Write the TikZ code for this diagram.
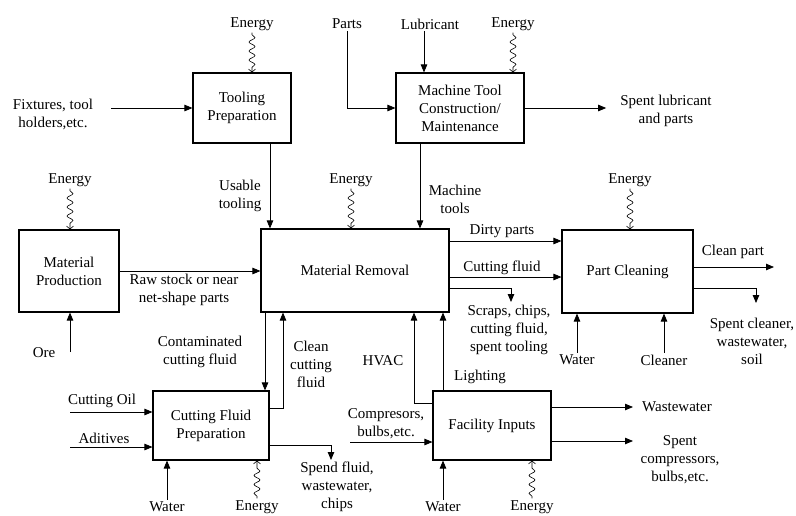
\documentclass[tikz,border=0pt]{standalone}
\usepackage{fontspec}
\setmainfont{Liberation Serif}
\usetikzlibrary{arrows.meta,decorations.pathmorphing}

\tikzset{
  block/.style={draw, line width=1.1pt, align=center, inner sep=2pt},
  lbl/.style={align=center, inner sep=0pt},
  flow/.style={line width=0.8pt, -{Triangle[length=8pt,width=6.5pt]}},
  energy/.style={line width=0.6pt, -{Straight Barb[length=3pt,width=7pt]},
    decorate, decoration={snake,amplitude=3pt,segment length=9pt,pre length=2pt,post length=4pt}}
}

\begin{document}
\begin{tikzpicture}[x=1pt,y=-1pt,font=\rmfamily\fontsize{15}{18}\selectfont]
\useasboundingbox (0,0) rectangle (796,515);

% process blocks
\node[block,minimum width=98pt,minimum height=70pt] (tp) at (242,108) {Tooling\\Preparation};
\node[block,minimum width=128pt,minimum height=70pt] (mt) at (460,108) {Machine Tool\\Construction/\\Maintenance};
\node[block,minimum width=100pt,minimum height=82pt] (mp) at (69,271) {Material\\Production};
\node[block,minimum width=188pt,minimum height=83pt] (mr) at (355,270.5) {Material Removal};
\node[block,minimum width=131pt,minimum height=83pt] (pc) at (627.5,271.5) {Part Cleaning};
\node[block,minimum width=116pt,minimum height=69pt] (cf) at (211,425.5) {Cutting Fluid\\Preparation};
\node[block,minimum width=118pt,minimum height=69pt] (fi) at (492,425.5) {Facility Inputs};

% labels
\node[lbl] (e1) at (252,24) {Energy};
\node[lbl] (fix) at (53,114) {Fixtures, tool\\holders,etc.};
\node[lbl] (parts) at (347,24) {Parts};
\node[lbl] (lub) at (430,24) {Lubricant};
\node[lbl] (e2) at (513,24) {Energy};
\node[lbl] (spl) at (666,111) {Spent lubricant\\and parts};
\node[lbl] (ut) at (240,196) {Usable\\tooling};
\node[lbl] (mtl) at (455,199) {Machine\\tools};
\node[lbl] (e3) at (351,180) {Energy};
\node[lbl] (e4) at (70,180) {Energy};
\node[lbl] (raw) at (184,290) {Raw stock or near\\net-shape parts};
\node[lbl] (ore) at (44,353) {Ore};
\node[lbl] (con) at (200,352) {Contaminated\\cutting fluid};
\node[lbl] (ccf) at (311,364) {Clean\\cutting\\fluid};
\node[lbl] (hvac) at (383,361) {HVAC};
\node[lbl] (light) at (480,377) {Lighting};
\node[lbl] (dirty) at (502,231) {Dirty parts};
\node[lbl] (cutf) at (502,268) {Cutting fluid};
\node[lbl] (scr) at (509,330) {Scraps, chips,\\cutting fluid,\\spent tooling};
\node[lbl] (e5) at (630,180) {Energy};
\node[lbl] (clean) at (733,252) {Clean part};
\node[lbl] (spc) at (752,341) {Spent cleaner,\\wastewater,\\soil};
\node[lbl] (w1) at (577,360) {Water};
\node[lbl] (cln) at (664,360) {Cleaner};
\node[lbl] (coil) at (102,401) {Cutting Oil};
\node[lbl] (adt) at (104,438) {Aditives};
\node[lbl] (w2) at (167,507) {Water};
\node[lbl] (e6) at (257,507) {Energy};
\node[lbl] (spf) at (337,487) {Spend fluid,\\wastewater,\\chips};
\node[lbl] (comp) at (386,424) {Compresors,\\bulbs,etc.};
\node[lbl] (ww) at (677,407) {Wastewater};
\node[lbl] (spcomp) at (680,460) {Spent\\compressors,\\bulbs,etc.};
\node[lbl] (w3) at (443,507) {Water};
\node[lbl] (e7) at (532,507) {Energy};

% free ends
\coordinate (fixs) at (111,108);
\coordinate (ores) at (70,352);
\coordinate (scre) at (511,302);
\coordinate (cpe) at (774,267);
\coordinate (spce) at (756,303);
\coordinate (coils) at (70,412);
\coordinate (adts) at (70,447);
\coordinate (spfe) at (331,460);
\coordinate (comps) at (350,442);
\coordinate (wwe) at (633,407);
\coordinate (spcompe) at (633,441);

% tooling and machine tool
\draw[energy] ([yshift=-2pt]e1.south) -- (e1.south |- tp.north);
\draw[flow] (fixs) -- (tp.west);
\draw[flow] ([yshift=-2pt]parts.south) |- (mt.west);
\draw[flow] ([xshift=-6pt,yshift=-2pt]lub.south) -- ([xshift=-6pt]lub.south |- mt.north);
\draw[energy] ([yshift=-2pt]e2.south) -- (e2.south |- mt.north);
\draw[flow] (mt.east) -- ([xshift=-14pt]spl.west |- mt.east);
\draw[flow] ([xshift=28pt]tp.south) -- ([xshift=28pt]tp.south |- mr.north);
\draw[flow] ([xshift=-40pt]mt.south) -- ([xshift=-40pt]mt.south |- mr.north);

% material production and removal
\draw[energy] ([yshift=-2pt]e3.south) -- (e3.south |- mr.north);
\draw[energy] ([yshift=-2pt]e4.south) -- (e4.south |- mp.north);
\draw[flow] (mp.east) -- (mp.east -| mr.west);
\draw[flow] (ores) -- (ores |- mp.south);
\draw[flow] ([xshift=-90pt]mr.south) -- ([xshift=-90pt]mr.south |- cf.north);
\draw[flow] ([yshift=17.5pt]cf.east) -| ([xshift=-72pt]mr.south);
\draw[flow] ([yshift=22.5pt]fi.west) -| ([xshift=59pt]mr.south);
\draw[flow] ([xshift=-49pt]fi.north) -- ([xshift=-49pt]fi.north |- mr.south);
\draw[flow] ([yshift=29.5pt]mr.east) -- ([yshift=29.5pt]mr.east -| pc.west);
\draw[flow] ([yshift=-6.5pt]mr.east) -- ([yshift=-6.5pt]mr.east -| pc.west);
\draw[flow] ([yshift=-17.5pt]mr.east) -| (scre);

% part cleaning
\draw[energy] ([yshift=-2pt]e5.south) -- (e5.south |- pc.north);
\draw[flow] ([yshift=4.5pt]pc.east) -- (cpe);
\draw[flow] ([yshift=-16.5pt]pc.east) -| (spce);
\draw[flow] ([yshift=2pt]w1.north) -- (w1.north |- pc.south);
\draw[flow] ([yshift=2pt]cln.north) -- (cln.north |- pc.south);

% cutting fluid preparation
\draw[flow] (coils) -- (coils -| cf.west);
\draw[flow] (adts) -- (adts -| cf.west);
\draw[flow] ([yshift=2pt]w2.north) -- (w2.north |- cf.south);
\draw[energy] ([yshift=2pt]e6.north) -- (e6.north |- cf.south);
\draw[flow] ([yshift=-19.5pt]cf.east) -| (spfe);

% facility inputs
\draw[flow] (comps) -- (comps -| fi.west);
\draw[flow] ([yshift=18.5pt]fi.east) -- (wwe);
\draw[flow] ([yshift=-15.5pt]fi.east) -- (spcompe);
\draw[flow] ([yshift=2pt]w3.north) -- (w3.north |- fi.south);
\draw[energy] ([yshift=2pt]e7.north) -- (e7.north |- fi.south);

\end{tikzpicture}
\end{document}
